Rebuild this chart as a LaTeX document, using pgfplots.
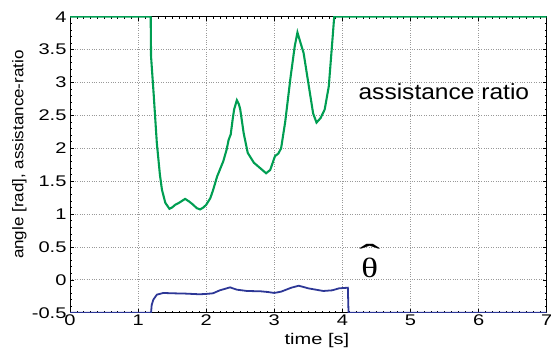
\documentclass[border=0pt]{standalone}
\usepackage{pgfplots}
\pgfplotsset{compat=1.18}
\usepackage{fontspec}
\setmainfont{Liberation Sans}
\newfontfamily\tickfont[FakeStretch=1.3]{Liberation Sans}
\newfontfamily\xlabfont[FakeStretch=1.3]{Liberation Sans}
\newfontfamily\ylabfont[FakeStretch=1.1]{Liberation Sans}
\newfontfamily\annfont[FakeStretch=1.12]{Liberation Sans}
\newfontfamily\thfont[FakeStretch=1.25]{Liberation Serif}
\newfontfamily\hatfont[FakeStretch=2.0]{Liberation Serif}
\definecolor{mgreen}{RGB}{0,158,82}
\definecolor{mblue}{RGB}{45,55,150}
\begin{document}
\begin{tikzpicture}[x=1bp,y=1bp]
\begin{axis}[name=ax,
  scale only axis,
  width=476.7bp, height=296bp,
  xmin=0, xmax=7, ymin=-0.5, ymax=4,
  xtick={0,1,...,7},
  ytick={-0.5,0,0.5,1,1.5,2,2.5,3,3.5,4},
  yticklabels={-0.5,0,0.5,1,1.5,2,2.5,3,3.5,4},
  minor x tick num=9, minor y tick num=4,
  tick align=inside,
  major tick length=4bp, minor tick length=2bp,
  every tick/.style={black, line width=0.5pt},
  grid=major,
  major grid style={dotted, gray!80, line width=0.7pt},
  axis line style={line width=0.8pt, black},
  /pgf/number format/assume math mode=true,
  ticklabel style={font=\tickfont\fontsize{15.5}{16}\selectfont},
  xticklabel style={yshift=1bp},
  xlabel={\xlabfont\fontsize{15.5}{16}\selectfont time [s]},
  xlabel style={at={(axis description cs:0.518,0)}, anchor=base, yshift=-32.3bp},
  ylabel={\ylabfont\fontsize{15.5}{16}\selectfont angle [rad], assistance-ratio},
  ylabel style={at={(axis description cs:-0.106,0.534)}, anchor=center},
  clip=true,
]
\addplot[mgreen, line width=2.1pt] coordinates {
(0,4) (1.185,4) (1.19,3.4) (1.23,2.8) (1.275,2.08) (1.32,1.6) (1.35,1.37)
(1.40,1.17) (1.46,1.08) (1.50,1.10) (1.545,1.14) (1.60,1.17) (1.69,1.23)
(1.75,1.19) (1.81,1.14) (1.86,1.09) (1.91,1.07) (1.96,1.10) (2.0,1.14)
(2.06,1.24) (2.10,1.36) (2.16,1.57) (2.25,1.80) (2.30,1.98) (2.33,2.13)
(2.36,2.21) (2.39,2.45) (2.41,2.59) (2.45,2.73) (2.48,2.67) (2.5,2.59)
(2.55,2.23) (2.61,1.93) (2.70,1.78) (2.79,1.70) (2.88,1.62) (2.94,1.67)
(3.01,1.88) (3.06,1.92) (3.10,2.00) (3.16,2.40) (3.24,3.09) (3.30,3.55)
(3.34,3.76) (3.38,3.62) (3.43,3.45) (3.50,2.99) (3.57,2.53) (3.62,2.39)
(3.68,2.46) (3.74,2.59) (3.80,2.94) (3.85,3.60) (3.88,4.0) (7,4)
};
\addplot[mblue, line width=1.8pt] coordinates {
(0,-0.5) (1.19,-0.5) (1.20,-0.38) (1.225,-0.30) (1.275,-0.226) (1.37,-0.20)
(1.5,-0.205) (1.7,-0.21) (1.9,-0.22) (2.0,-0.215) (2.1,-0.205) (2.2,-0.16)
(2.35,-0.115) (2.45,-0.15) (2.6,-0.17) (2.8,-0.175) (2.9,-0.185) (3.0,-0.2)
(3.1,-0.18) (3.25,-0.12) (3.36,-0.09) (3.5,-0.13) (3.72,-0.17) (3.85,-0.16)
(3.95,-0.13) (4.08,-0.12) (4.09,-0.5) (7,-0.5)
};
\node[anchor=base, font=\annfont\fontsize{22}{22}\selectfont] at (axis cs:5.49,2.74) {assistance ratio};
\node[anchor=base, inner sep=0pt, font=\thfont\fontsize{28}{28}\selectfont] at (axis cs:4.40,0.04) {θ};
\node[anchor=north, inner sep=0pt, font=\hatfont\fontsize{32}{32}\selectfont] at (axis cs:4.40,0.54) {ˆ};
\end{axis}
\pgfresetboundingbox
\path[use as bounding box] ([shift={(-70bp,-38.3bp)}]ax.south west) rectangle ([shift={(4.3bp,16.7bp)}]ax.north east);
\end{tikzpicture}
\end{document}
